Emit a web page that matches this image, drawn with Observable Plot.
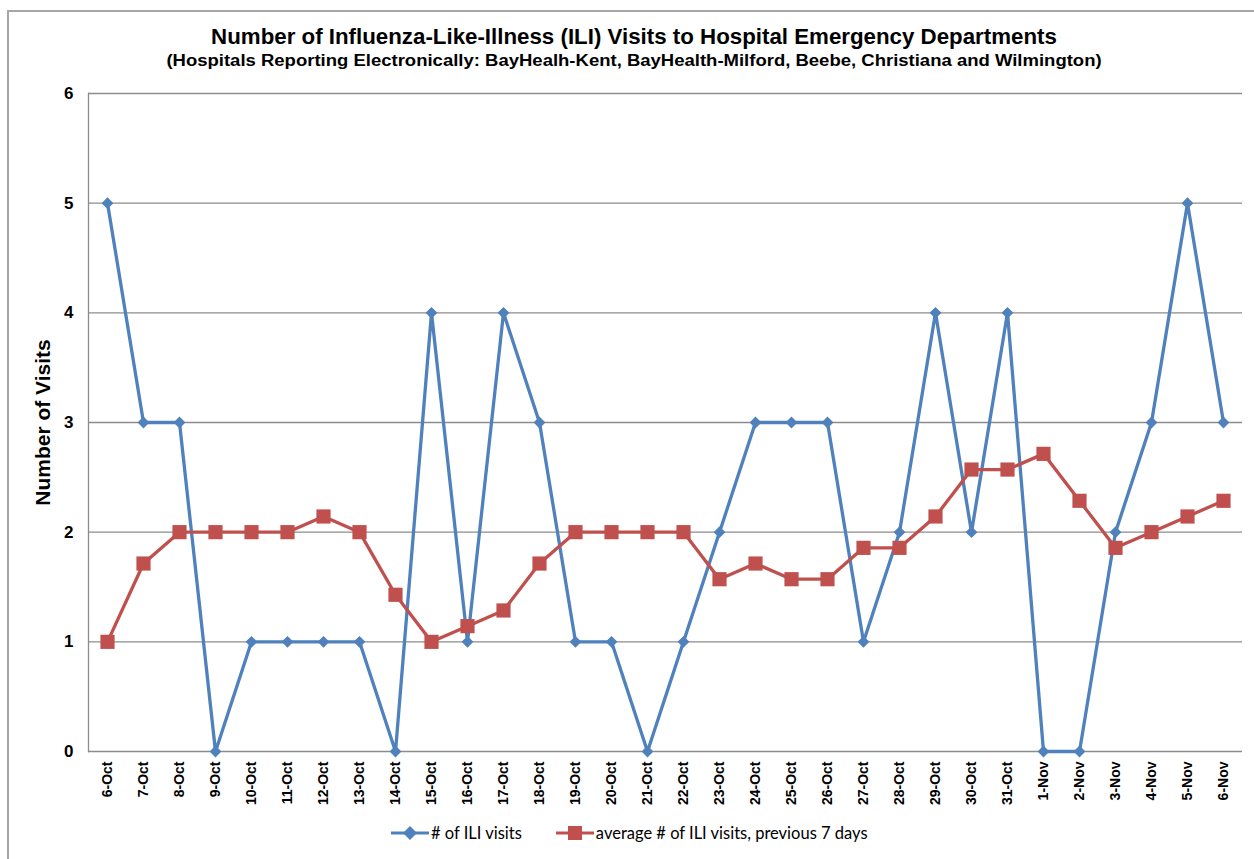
<!DOCTYPE html>
<html><head><meta charset="utf-8">
<script src="https://cdn.jsdelivr.net/npm/d3@7"></script>
<script src="https://cdn.jsdelivr.net/npm/@observablehq/plot@0.6"></script>
<style>
body{margin:0;overflow:hidden;background:#fff;}
#wrap{position:relative;width:1254px;height:859px;overflow:hidden;font-family:"Liberation Sans",Arial,sans-serif;color:#000;}
#frame{position:absolute;left:7px;top:10px;width:1300px;height:900px;border-left:2px solid #a6a6a6;border-top:2px solid #a6a6a6;}
#title{position:absolute;left:0;top:24px;width:1268px;text-align:center;font-weight:bold;font-size:22.3px;line-height:26px;}
#subtitle{position:absolute;left:0;top:51px;width:1268px;text-align:center;font-weight:bold;font-size:18.5px;line-height:20px;transform:scaleY(0.85);}
#chart{position:absolute;left:0;top:80px;}
#legend{position:absolute;left:391px;top:823px;display:flex;gap:34px;font-family:Lato,"Open Sans",sans-serif;font-size:16.5px;}
.item{display:flex;align-items:center;gap:2px;}
</style>
</head><body>
<div id="wrap">
<div id="frame"></div>
<div id="title">Number of Influenza-Like-Illness (ILI) Visits to Hospital Emergency Departments</div>
<div id="subtitle">(Hospitals Reporting Electronically: BayHealh-Kent, BayHealth-Milford, Beebe, Christiana and Wilmington)</div>
<div id="chart"></div>
<div id="legend"></div>
</div>
<script>
const dates = ["6-Oct","7-Oct","8-Oct","9-Oct","10-Oct","11-Oct","12-Oct","13-Oct","14-Oct","15-Oct","16-Oct","17-Oct","18-Oct","19-Oct","20-Oct","21-Oct","22-Oct","23-Oct","24-Oct","25-Oct","26-Oct","27-Oct","28-Oct","29-Oct","30-Oct","31-Oct","1-Nov","2-Nov","3-Nov","4-Nov","5-Nov","6-Nov"];
const iliVisits = [5,3,3,0,1,1,1,1,0,4,1,4,3,1,1,0,1,2,3,3,3,1,2,4,2,4,0,0,2,3,5,3];
const avgPrev7 = [1,1.714,2,2,2,2,2.143,2,1.429,1,1.143,1.286,1.714,2,2,2,2,1.571,1.714,1.571,1.571,1.857,1.857,2.143,2.571,2.571,2.714,2.286,1.857,2,2.143,2.286];
const yTicks = [0,1,2,3,4,5,6];
const seriesNames = ["# of ILI visits","average # of ILI visits, previous 7 days"];
const colors = ["#4F81BD","#C0504D"];

const ili = dates.map((d,i)=>({date:d, value:iliVisits[i]}));
const avg = dates.map((d,i)=>({date:d, value:avgPrev7[i]}));

const plot = Plot.plot({
  width:1254, height:721,
  marginLeft:88, marginRight:12, marginTop:13, marginBottom:50,
  style:{fontFamily:"'Liberation Sans', Arial, sans-serif", background:"transparent", overflow:"visible"},
  x:{type:"point", domain:dates, padding:0.5, align:0.5},
  y:{domain:[0,6]},
  marks:[
    Plot.ruleY(yTicks,{stroke:"#8c8c8c", strokeWidth:1.3}),
    Plot.frame({anchor:"left", stroke:"#8c8c8c", strokeWidth:1.3}),
    Plot.axisY({ticks:yTicks, tickSize:0, tickPadding:15, fontSize:17, fontWeight:"bold", label:null, tickFormat:d3.format("d")}),
    Plot.axisX({tickSize:0, tickPadding:10, tickRotate:-90, fontSize:14, fontWeight:"bold", label:null}),
    Plot.text(["Number of Visits"],{frameAnchor:"left", dx:-45, rotate:-90, textAnchor:"middle", fontSize:21, fontWeight:"bold"}),
    Plot.line(ili,{x:"date", y:"value", stroke:colors[0], strokeWidth:3.3}),
    Plot.dot(ili,{x:"date", y:"value", symbol:"diamond2", r:5.3, fill:colors[0], stroke:null}),
    Plot.line(avg,{x:"date", y:"value", stroke:colors[1], strokeWidth:3.3}),
    Plot.dot(avg,{x:"date", y:"value", symbol:"square", r:8, fill:colors[1], stroke:null})
  ]
});
document.getElementById("chart").appendChild(plot);

const legend = document.getElementById("legend");
const symbols = ["diamond","square"];
seriesNames.forEach((name,i)=>{
  const item = document.createElement("div");
  item.className="item";
  const mk = symbols[i]==="diamond"
    ? `<polygon points="19,0 26,7 19,14 12,7" fill="${colors[i]}"/>`
    : `<rect x="12" y="0" width="14" height="14" fill="${colors[i]}"/>`;
  item.innerHTML = `<svg width="38" height="14"><line x1="0" y1="7" x2="38" y2="7" stroke="${colors[i]}" stroke-width="3"/>${mk}</svg><span>${name}</span>`;
  legend.appendChild(item);
});
</script>
</body></html>
